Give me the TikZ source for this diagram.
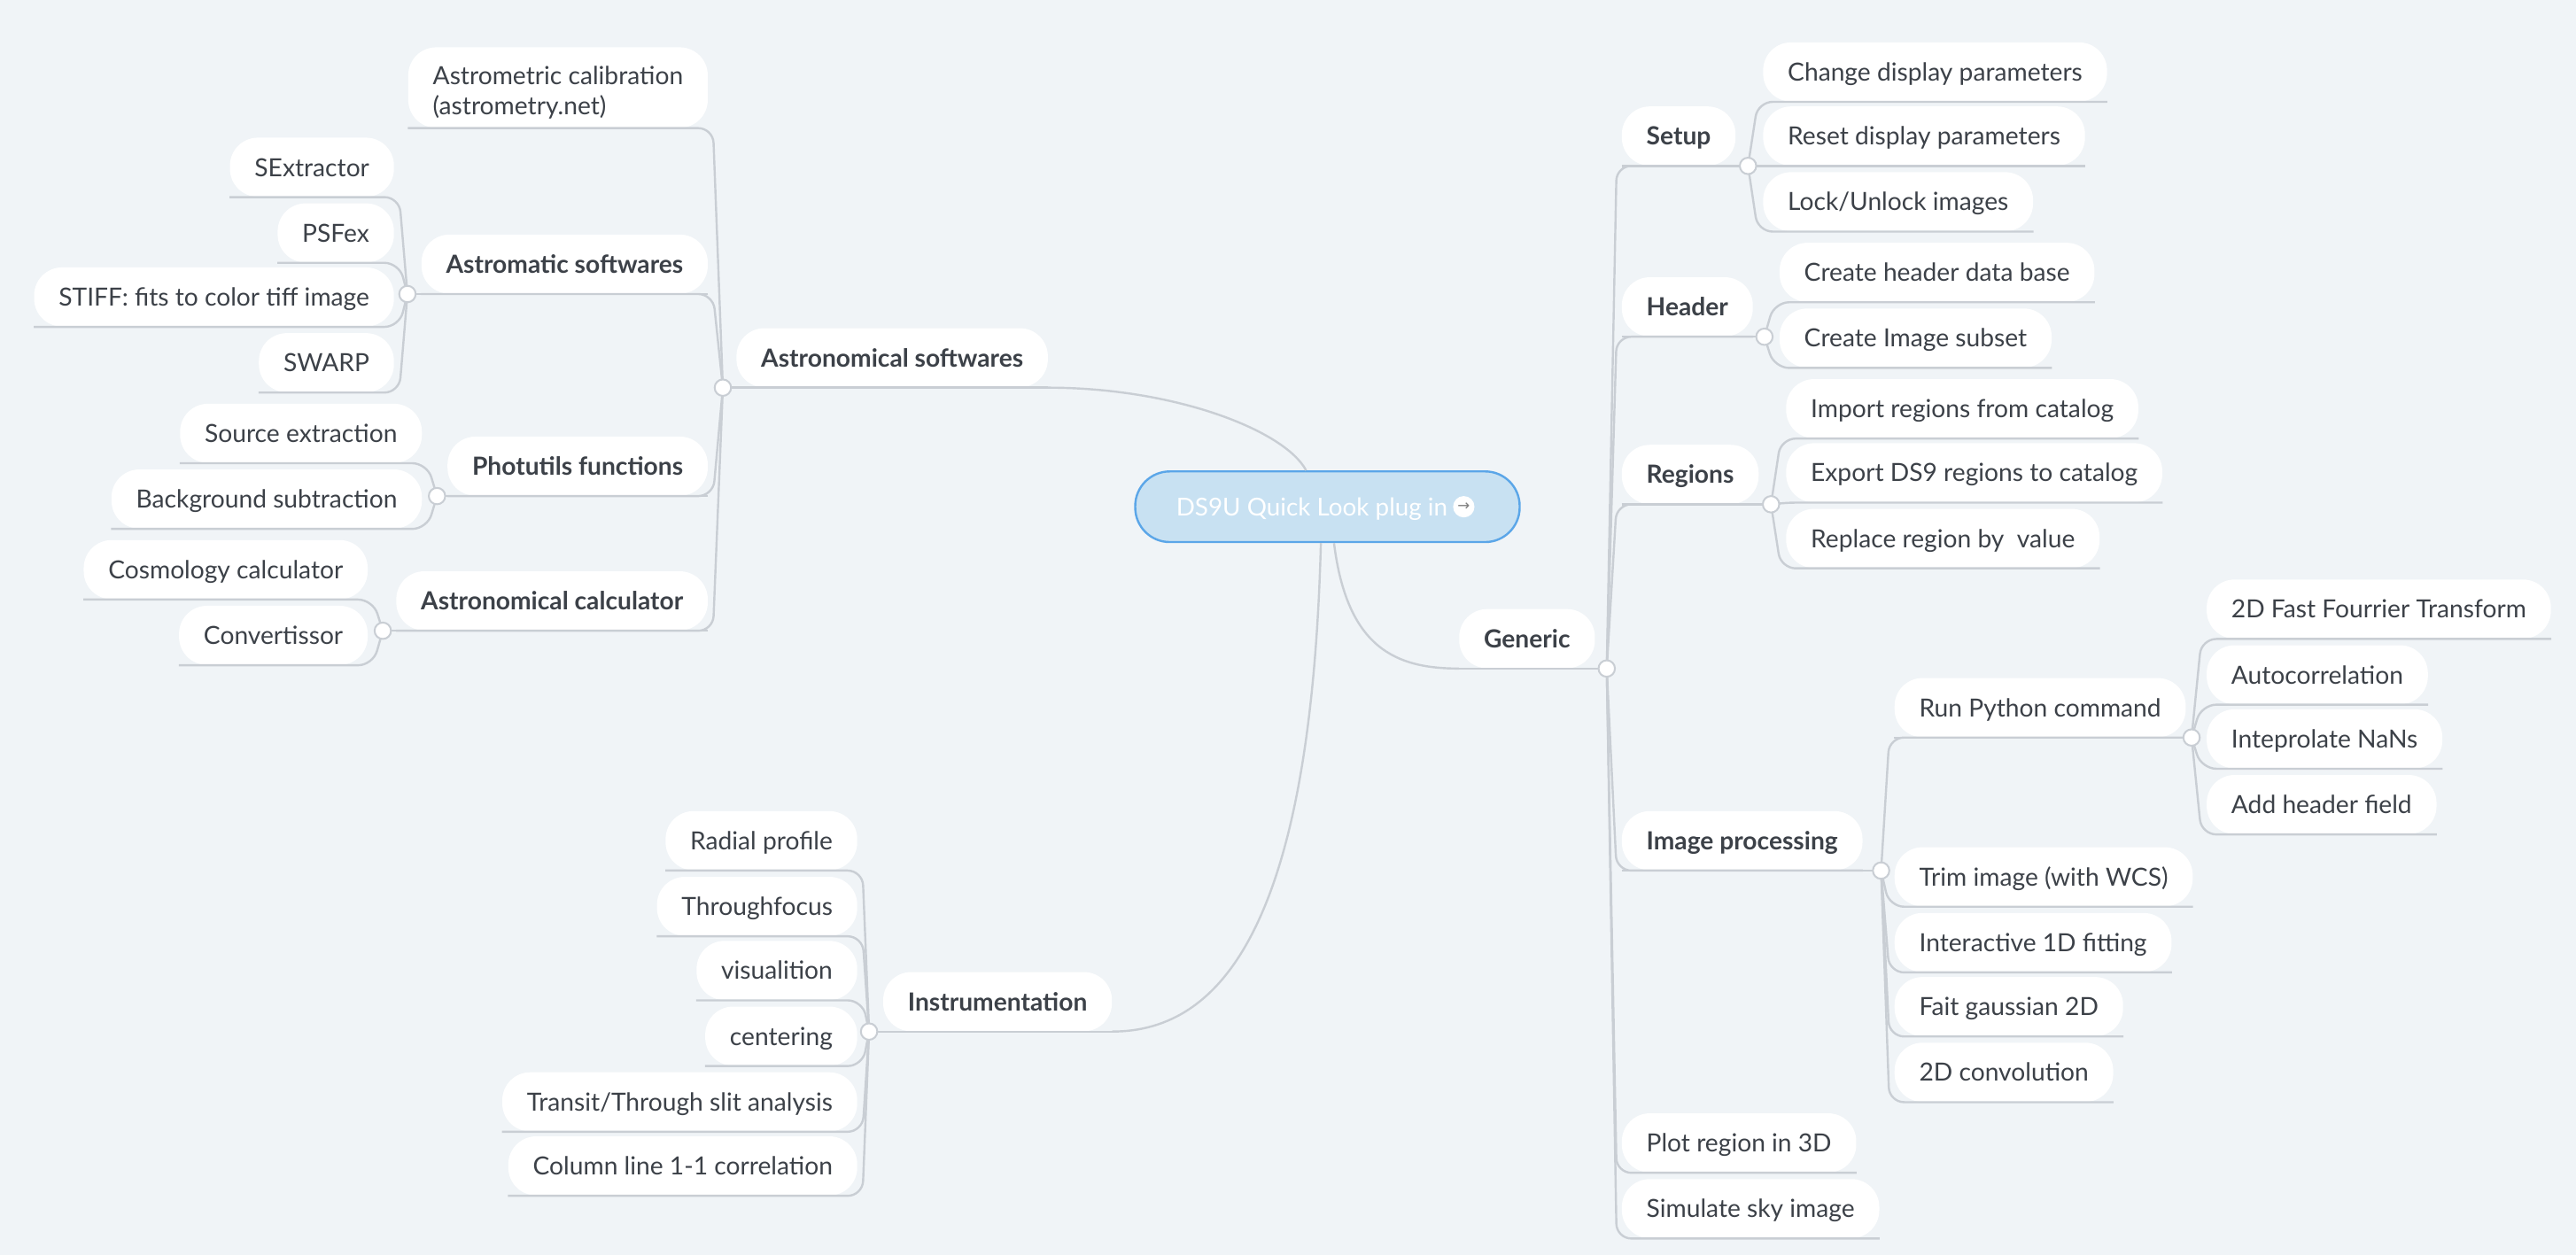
\documentclass[tikz,border=0pt]{standalone}
\usepackage{fontspec}
\setmainfont{Lato}
\newfontfamily\dejavu{DejaVu Sans}
\usetikzlibrary{calc}
\definecolor{bg}{HTML}{F0F4F7}
\definecolor{ln}{HTML}{C9CED4}
\definecolor{tx}{HTML}{3C4148}
\definecolor{rootfill}{HTML}{C8E1F2}
\definecolor{rootdraw}{HTML}{5BA6E8}
\newcommand\rconn[2]{\draw[conn] (#1.center) -- ([xshift=-3pt]#2.south west) -- (#2.south east);}
\newcommand\lconn[2]{\draw[conn] (#1.center) -- ([xshift=3pt]#2.south east) -- (#2.south west);}
\begin{document}
\begin{tikzpicture}[x=1pt,y=-1pt,
  leaf/.style={fill=white, rounded corners=17pt, minimum height=36pt, inner xsep=15pt, inner ysep=0pt, text=tx, font=\fontsize{15.2}{18}\selectfont},
  lf/.style={leaf, text height=12pt, text depth=1pt},
  bold/.style={lf, font=\fontsize{15.2}{18}\selectfont\bfseries},
  conn/.style={draw=ln, line width=1.3pt, rounded corners=9pt},
  junc/.style={circle, draw=ln, fill=white, line width=1.1pt, minimum size=10pt, inner sep=0pt},
  uline/.style={draw=ln, line width=1.3pt}]
\fill[bg] (0,0) rectangle (1568,764);
% root
\node[fill=rootfill, draw=rootdraw, line width=1.3pt, rounded corners=21pt, minimum height=43pt, minimum width=234pt, text=white, font=\fontsize{15}{18}\selectfont, text height=12pt, text depth=1pt] (root) at (808,308.5) {DS9U Quick Look plug in\kern 19pt};
\node[circle, fill=white, minimum size=13pt, inner sep=0pt, text=gray, font=\dejavu\fontsize{9}{9}\selectfont] (icon) at (891,308.5) {→};
% right side
\node[bold, anchor=south west] (generic) at (888,407) {Generic};
\node[bold, anchor=south west] (setup) at (987,101) {Setup};
\node[bold, anchor=south west] (header) at (987,205) {Header};
\node[bold, anchor=south west] (regions) at (987,307) {Regions};
\node[bold, anchor=south west] (improc) at (987,530) {Image processing};
\node[lf, anchor=south west] (plot) at (987,714) {Plot region in 3D};
\node[lf, anchor=south west] (simsky) at (987,754) {Simulate sky image};
\node[lf, anchor=south west] (change) at (1073,62) {Change display parameters};
\node[lf, anchor=south west] (reset) at (1073,101) {Reset display parameters};
\node[lf, anchor=south west] (lock) at (1073,141) {Lock/Unlock images};
\node[lf, anchor=south west] (createdb) at (1083,184) {Create header data base};
\node[lf, anchor=south west] (subset) at (1083,224) {Create Image subset};
\node[lf, anchor=south west] (import) at (1087,267) {Import regions from catalog};
\node[lf, anchor=south west] (export) at (1087,306) {Export DS9 regions to catalog};
\node[lf, anchor=south west] (replace) at (1087,346) {Replace region by\ \ value};
\node[lf, anchor=south west] (runpy) at (1153,449) {Run Python command};
\node[lf, anchor=south west] (trim) at (1153,552) {Trim image (with WCS)};
\node[lf, anchor=south west] (fitod) at (1153,592) {Interactive 1D fitting};
\node[lf, anchor=south west] (gauss) at (1153,631) {Fait gaussian 2D};
\node[lf, anchor=south west] (conv) at (1153,671) {2D convolution};
\node[lf, anchor=south west] (fft) at (1343,389) {2D Fast Fourrier Transform};
\node[lf, anchor=south west] (autoc) at (1343,429) {Autocorrelation};
\node[lf, anchor=south west] (nans) at (1343,468) {Inteprolate NaNs};
\node[lf, anchor=south west] (addhdr) at (1343,508) {Add header field};
% left side
\node[bold, anchor=south east] (astrosoft) at (638,236) {Astronomical softwares};
\node[leaf, anchor=south east, align=left, minimum height=49pt, inner ysep=4pt, font=\fontsize{15.2}{18.5}\selectfont] (astrometric) at (431,78) {\rule{0pt}{17pt}Astrometric calibration\\(astrometry.net)};
\node[bold, anchor=south east] (astromatic) at (431,179) {Astromatic softwares};
\node[bold, anchor=south east] (photutils) at (431,302) {Photutils functions};
\node[bold, anchor=south east] (astrocalc) at (431,384) {Astronomical calculator};
\node[lf, anchor=south east] (sex) at (240,120) {SExtractor};
\node[lf, anchor=south east] (psfex) at (240,160) {PSFex};
\node[lf, anchor=south east] (stiff) at (240,199) {STIFF: fits to color tiff image};
\node[lf, anchor=south east] (swarp) at (240,239) {SWARP};
\node[lf, anchor=south east] (srcext) at (257,282) {Source extraction};
\node[lf, anchor=south east] (bkg) at (257,322) {Background subtraction};
\node[lf, anchor=south east] (cosmo) at (224,365) {Cosmology calculator};
\node[lf, anchor=south east] (convert) at (224,405) {Convertissor};
\node[bold, anchor=south east] (instr) at (677,628) {Instrumentation};
\node[lf, anchor=south east] (radial) at (522,530) {Radial profile};
\node[lf, anchor=south east] (thrfoc) at (522,570) {Throughfocus};
\node[lf, anchor=south east] (visual) at (522,609) {visualition};
\node[lf, anchor=south east] (centering) at (522,649) {centering};
\node[lf, anchor=south east] (transit) at (522,689) {Transit/Through slit analysis};
\node[lf, anchor=south east] (column) at (522,728) {Column line 1-1 correlation};
% junction positions
\coordinate (jG) at (978,407);
\coordinate (jSetup) at (1064,101);
\coordinate (jHeader) at (1074,205);
\coordinate (jRegions) at (1078,307);
\coordinate (jImproc) at (1145,530);
\coordinate (jRunpy) at (1334,449);
\coordinate (jAS) at (440,236);
\coordinate (jAM) at (248,179);
\coordinate (jPU) at (266,302);
\coordinate (jAC) at (233,384);
\coordinate (jIn) at (529,628);
% root connectors
\draw[uline] ([xshift=-13pt]root.north) .. controls (782,262) and (715,236) .. (astrosoft.south east);
\draw[uline] ([xshift=-4pt]root.south) .. controls (798,560) and (745,628) .. (instr.south east);
\draw[uline] ([xshift=4pt]root.south) .. controls (820,395) and (850,407) .. (generic.south west);
% underlines of parents to their junctions
\draw[uline] (generic.south west) -- (jG);
\draw[uline] (setup.south west) -- (jSetup);
\draw[uline] (header.south west) -- (jHeader);
\draw[uline] (regions.south west) -- (jRegions);
\draw[uline] (improc.south west) -- (jImproc);
\draw[uline] (runpy.south west) -- (jRunpy);
\draw[uline] (astrosoft.south east) -- (jAS);
\draw[uline] (astromatic.south east) -- (jAM);
\draw[uline] (photutils.south east) -- (jPU);
\draw[uline] (astrocalc.south east) -- (jAC);
\draw[uline] (instr.south east) -- (jIn);
% child connectors
\rconn{jG}{setup}\rconn{jG}{header}\rconn{jG}{regions}\rconn{jG}{improc}\rconn{jG}{plot}\rconn{jG}{simsky}
\rconn{jSetup}{change}\rconn{jSetup}{reset}\rconn{jSetup}{lock}
\rconn{jHeader}{createdb}\rconn{jHeader}{subset}
\rconn{jRegions}{import}\rconn{jRegions}{export}\rconn{jRegions}{replace}
\rconn{jImproc}{runpy}\rconn{jImproc}{trim}\rconn{jImproc}{fitod}\rconn{jImproc}{gauss}\rconn{jImproc}{conv}
\rconn{jRunpy}{fft}\rconn{jRunpy}{autoc}\rconn{jRunpy}{nans}\rconn{jRunpy}{addhdr}
\lconn{jAS}{astrometric}\lconn{jAS}{astromatic}\lconn{jAS}{photutils}\lconn{jAS}{astrocalc}
\lconn{jAM}{sex}\lconn{jAM}{psfex}\lconn{jAM}{stiff}\lconn{jAM}{swarp}
\lconn{jPU}{srcext}\lconn{jPU}{bkg}
\lconn{jAC}{cosmo}\lconn{jAC}{convert}
\lconn{jIn}{radial}\lconn{jIn}{thrfoc}\lconn{jIn}{visual}\lconn{jIn}{centering}\lconn{jIn}{transit}\lconn{jIn}{column}
% junction circles
\foreach \j in {jG,jSetup,jHeader,jRegions,jImproc,jRunpy,jAS,jAM,jPU,jAC,jIn}
  \node[junc] at (\j) {};
\end{tikzpicture}
\end{document}
